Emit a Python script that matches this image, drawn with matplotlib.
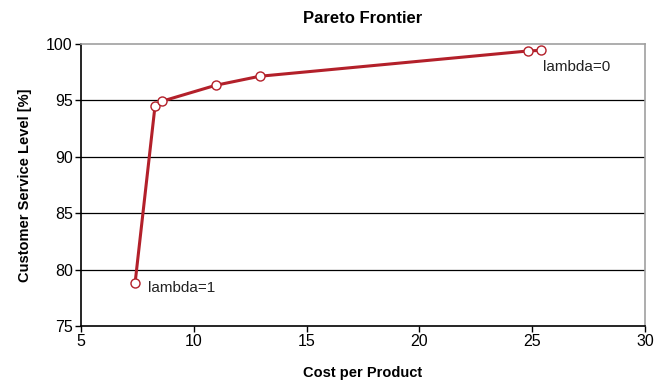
import matplotlib
matplotlib.use("Agg")
import matplotlib.pyplot as plt

plt.rcParams["font.family"] = ["Liberation Sans", "DejaVu Sans"]

cost = [7.4, 8.28, 8.58, 10.97, 12.92, 24.8, 25.4]
service = [78.85, 94.48, 94.92, 96.34, 97.14, 99.38, 99.44]
xticks = [5, 10, 15, 20, 25, 30]
yticks = [75, 80, 85, 90, 95, 100]

RED = "#b3202a"

fig = plt.figure(figsize=(6.66, 3.82), dpi=100)
ax = fig.add_axes([0.1216, 0.1466, 0.8469, 0.7382])

for yv in yticks[1:-1]:
    ax.axhline(yv, color="black", lw=0.9, zorder=1)

ax.plot(cost, service, color=RED, lw=2.2, marker="o", ms=6.5,
        mfc="white", mec=RED, mew=1.0, zorder=3, clip_on=False)

ax.text(7.95, 78.4, "lambda=1", fontsize=11, ha="left", va="center", color="#222222")
ax.text(25.5, 98.0, "lambda=0", fontsize=11, ha="left", va="center", color="#222222")

ax.set_xlim(5, 30)
ax.set_ylim(75, 100)
ax.set_xticks(xticks)
ax.set_yticks(yticks)
ax.tick_params(direction="out", length=4, width=1, labelsize=11.5, pad=2)
for s in ("left", "bottom"):
    ax.spines[s].set_color("black")
    ax.spines[s].set_linewidth(1.2)
for s in ("top", "right"):
    ax.spines[s].set_color("#a0a0a0")
    ax.spines[s].set_linewidth(1.2)

ax.set_title("Pareto Frontier", fontsize=12, fontweight="bold", pad=15)
ax.set_xlabel("Cost per Product", fontsize=10.5, fontweight="bold", labelpad=12)
ax.set_ylabel("Customer Service Level [%]", fontsize=10.5, fontweight="bold", labelpad=10)

fig.savefig("out.png", dpi=100)
